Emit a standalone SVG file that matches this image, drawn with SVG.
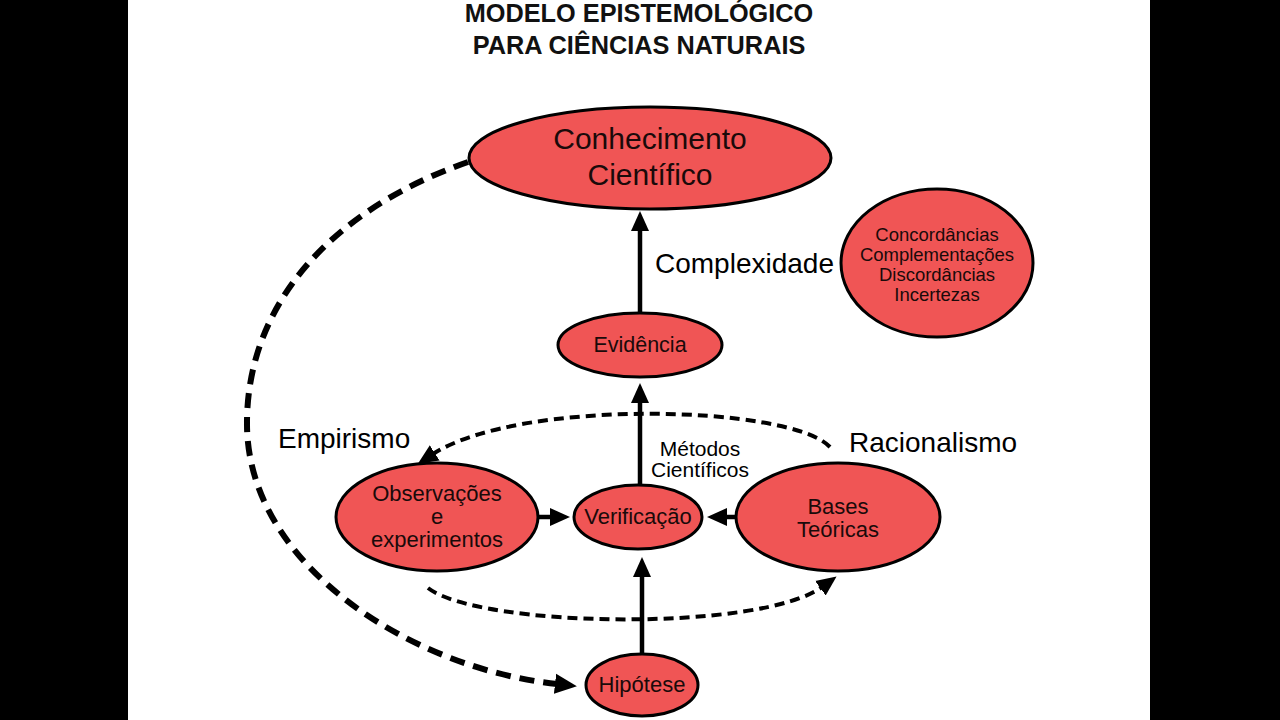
<svg xmlns="http://www.w3.org/2000/svg" width="1280" height="720" viewBox="0 0 1280 720">
<defs>
<style>
.node{fill:#f05555;stroke:#000;stroke-width:3}
.t{font-family:"Liberation Sans",Arial,sans-serif;fill:#1a0a0a;text-anchor:middle}
.lbl{font-family:"Liberation Sans",Arial,sans-serif;fill:#000}
.solid{stroke:#000;stroke-width:4.5;fill:none}
.dash1{stroke:#000;stroke-width:6;fill:none;stroke-dasharray:15 9}
.dash2{stroke:#000;stroke-width:4;fill:none;stroke-dasharray:10 6}
</style>
<marker id="ah" markerUnits="userSpaceOnUse" markerWidth="22" markerHeight="20" viewBox="0 0 22 20" refX="2" refY="10" orient="auto">
<path d="M0,1 L20,10 L0,19 z" fill="#000"/>
</marker>
<marker id="ahd" markerUnits="userSpaceOnUse" markerWidth="24" markerHeight="22" viewBox="0 0 24 22" refX="2" refY="11" orient="auto">
<path d="M0,1 L22,11 L0,21 z" fill="#000"/>
</marker>
</defs>
<rect x="0" y="0" width="1280" height="720" fill="#000"/>
<rect x="128" y="0" width="1022" height="720" fill="#fff"/>

<g id="title" font-family="Liberation Sans, Arial, sans-serif" font-weight="bold" font-size="25.3" text-anchor="middle" fill="#111">
<text x="639" y="22">MODELO EPISTEMOLÓGICO</text>
<text x="639" y="54">PARA CIÊNCIAS NATURAIS</text>
</g>

<g id="connectors">
<line class="solid" x1="640" y1="312" x2="640" y2="229" marker-end="url(#ah)"/>
<line class="solid" x1="640" y1="484" x2="640" y2="401" marker-end="url(#ah)"/>
<line class="solid" x1="642" y1="653" x2="642" y2="575" marker-end="url(#ah)"/>
<line class="solid" x1="537" y1="517" x2="552" y2="517" marker-end="url(#ah)"/>
<line class="solid" x1="737" y1="517" x2="725" y2="517" marker-end="url(#ah)"/>
<path class="dash1" d="M468,162 C325,212 246,310 247,425 C248,565 410,668 557,684" marker-end="url(#ahd)"/>
<path class="dash2" d="M830,447 C790,405 520,398 433,454" marker-end="url(#ah)"/>
<path class="dash2" d="M428,588 C480,628 760,632 822,587" marker-end="url(#ah)"/>
</g>

<g id="labels" class="lbl">
<text x="655" y="273" font-size="28">Complexidade</text>
<text x="278" y="448" font-size="28">Empirismo</text>
<text x="849" y="452" font-size="28">Racionalismo</text>
<text x="700" y="456" font-size="21" text-anchor="middle">Métodos</text>
<text x="700" y="477" font-size="21" text-anchor="middle">Científicos</text>
</g>

<g id="node-conhecimento">
<ellipse class="node" cx="650" cy="158" rx="181" ry="51"/>
<text class="t" x="650" y="149" font-size="30">Conhecimento</text>
<text class="t" x="650" y="185" font-size="30">Científico</text>
</g>

<g id="node-complexidade">
<ellipse class="node" cx="937" cy="263" rx="96" ry="74"/>
<text class="t" x="937" y="241" font-size="18.5">Concordâncias</text>
<text class="t" x="937" y="261" font-size="18.5">Complementações</text>
<text class="t" x="937" y="281" font-size="18.5">Discordâncias</text>
<text class="t" x="937" y="301" font-size="18.5">Incertezas</text>
</g>

<g id="node-evidencia">
<ellipse class="node" cx="640" cy="345" rx="82" ry="32"/>
<text class="t" x="640" y="352" font-size="21.5">Evidência</text>
</g>

<g id="node-observacoes">
<ellipse class="node" cx="437" cy="517" rx="101" ry="54"/>
<text class="t" x="437" y="501" font-size="22">Observações</text>
<text class="t" x="437" y="524" font-size="22">e</text>
<text class="t" x="437" y="547" font-size="22">experimentos</text>
</g>

<g id="node-verificacao">
<ellipse class="node" cx="638" cy="517" rx="64" ry="32"/>
<text class="t" x="638" y="524" font-size="22">Verificação</text>
</g>

<g id="node-bases">
<ellipse class="node" cx="838" cy="517" rx="102" ry="54"/>
<text class="t" x="838" y="514" font-size="22">Bases</text>
<text class="t" x="838" y="537" font-size="22">Teóricas</text>
</g>

<g id="node-hipotese">
<ellipse class="node" cx="642" cy="685" rx="56" ry="31"/>
<text class="t" x="642" y="692" font-size="22">Hipótese</text>
</g>
</svg>
